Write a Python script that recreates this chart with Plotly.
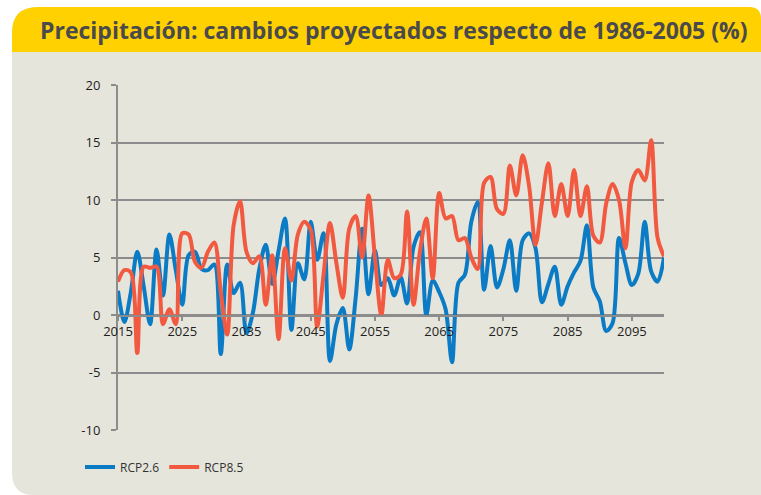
import plotly.graph_objects as go

# ---------------- data ----------------
years = list(range(2015, 2101))

rcp26 = [
    2.1, -0.6, 2.0, 5.5, 2.5, -0.8, 5.7, 1.7, 7.0, 3.9,      # 2015-2024
    0.9, 5.2, 5.5, 4.0, 3.9, 4.4, -3.4, 4.4, 1.9, 2.8,       # 2025-2034
    -1.6, 0.2, 4.0, 6.1, 2.7, 5.6, 8.4, -1.3, 4.5, 3.1,      # 2035-2044
    8.1, 4.8, 7.1, -4.0, -0.8, 0.6, -3.0, 1.5, 7.5, 1.8,     # 2045-2054
    5.6, 2.6, 3.2, 1.7, 3.3, 1.0, 5.9, 7.2, 0.0, 3.0,        # 2055-2064
    2.0, 0.5, -4.1, 2.8, 3.5, 8.1, 9.8, 2.2, 6.0, 2.4,       # 2065-2074
    4.0, 6.5, 2.1, 6.5, 7.1, 5.8, 1.1, 2.7, 4.2, 0.9,        # 2075-2084
    2.5, 3.7, 4.7, 7.8, 2.4, 1.2, -1.4, -0.7, 6.7, 4.5,      # 2085-2094
    2.6, 3.6, 8.1, 3.8, 2.9, 5.0,                            # 2095-2100
]

rcp85 = [
    2.9, 3.9, 3.7, -3.3, 4.2, 4.1, 4.2, -0.8, 0.5, -0.8,     # 2015-2024
    7.1, 7.0, 4.6, 4.1, 5.5, 6.3, 2.0, -1.7, 7.8, 9.9,       # 2025-2034
    5.5, 4.5, 5.1, 0.9, 5.2, -2.1, 5.8, 3.0, 7.0, 8.1,       # 2035-2044
    7.4, -1.0, 3.5, 8.0, 4.5, 1.5, 7.5, 8.6, 5.0, 10.4,      # 2045-2054
    5.0, 0.0, 4.8, 3.2, 3.5, 9.0, 0.9, 5.5, 8.4, 3.2,        # 2055-2064
    10.6, 8.4, 8.6, 6.5, 6.7, 5.0, 4.0, 11.5, 12.0, 9.2,     # 2065-2074
    8.8, 13.0, 10.4, 13.9, 11.2, 6.1, 9.8, 13.2, 8.6, 11.4,  # 2075-2084
    8.6, 12.6, 8.6, 11.2, 6.9, 6.3, 9.7, 11.4, 10.0, 5.8,    # 2085-2094
    11.6, 12.6, 11.7, 15.2, 6.7, 5.1,                        # 2095-2100
]

series_names = ["RCP2.6", "RCP8.5"]
y_ticks = [-10, -5, 0, 5, 10, 15, 20]
x_ticks = list(range(2015, 2100, 10))
title_text = "Precipitación: cambios proyectados respecto de 1986-2005 (%)"

# ---------------- style ----------------
W, H = 761, 495
BLUE = "#0a7bc4"
RED = "#f15a40"
GRID = "#8c8c8c"
BEIGE = "#e6e5db"
YELLOW = "#ffd100"


def px(x):
    return x / W


def py(y):
    return 1 - y / H


def path(points):
    out = []
    for cmd, *coords in points:
        if cmd == "Z":
            out.append("Z")
            continue
        pts = []
        for i in range(0, len(coords), 2):
            pts.append(f"{px(coords[i]):.5f},{py(coords[i+1]):.5f}")
        out.append(cmd + " " + " ".join(pts))
    return " ".join(out)


card = path([
    ("M", 12, 33), ("Q", 12, 7, 38, 7), ("L", 749, 7), ("Q", 761, 7, 761, 19),
    ("L", 761, 495), ("L", 34, 495), ("Q", 12, 495, 12, 473), ("Z",),
])
header = path([
    ("M", 12, 52), ("L", 12, 33), ("Q", 12, 7, 38, 7), ("L", 749, 7),
    ("Q", 761, 7, 761, 19), ("L", 761, 52), ("Z",),
])

fig = go.Figure()
fig.add_trace(go.Scatter(
    x=years, y=rcp26, mode="lines", name=series_names[0],
    line=dict(color=BLUE, width=4, shape="spline", smoothing=0.9),
))
fig.add_trace(go.Scatter(
    x=years, y=rcp85, mode="lines", name=series_names[1],
    line=dict(color=RED, width=4, shape="spline", smoothing=0.9),
))

TICKFONT = dict(family="Open Sans", size=13, color="#1e1e1e")

fig.update_layout(
    template="none",
    width=W, height=H,
    margin=dict(l=0, r=0, t=0, b=0, autoexpand=False),
    paper_bgcolor="white",
    plot_bgcolor="rgba(0,0,0,0)",
    showlegend=True,
    legend=dict(
        orientation="h", x=px(80), y=py(467), xanchor="left", yanchor="middle",
        bgcolor="rgba(0,0,0,0)", font=dict(family="Open Sans", size=12, color="#333333"),
        itemwidth=30, tracegroupgap=0,
    ),
    shapes=[
        dict(type="path", path=card, xref="paper", yref="paper",
             fillcolor=BEIGE, line=dict(width=0), layer="below"),
        dict(type="path", path=header, xref="paper", yref="paper",
             fillcolor=YELLOW, line=dict(width=0), layer="below"),
    ],
    annotations=[
        dict(text="<b>" + title_text + "</b>", x=px(38), y=py(30),
             xref="paper", yref="paper", xanchor="left", yanchor="middle",
             showarrow=False, font=dict(family="Open Sans", size=23, color="#4a4a4c")),
    ],
    xaxis=dict(
        domain=[px(118), px(664)], range=[2015, 2100],
        anchor="free", position=py(315.5), automargin=False,
        tickvals=x_ticks, ticktext=[str(v) for v in x_ticks],
        showgrid=False, zeroline=False,
        showline=True, linecolor=GRID, linewidth=2,
        ticks="outside", ticklen=4, tickwidth=1.5, tickcolor=GRID,
        tickfont=TICKFONT,
    ),
    yaxis=dict(
        domain=[py(430), py(85)], range=[-10, 20], automargin=False,
        tickvals=y_ticks, ticktext=[str(v) for v in y_ticks],
        showgrid=True, gridcolor=GRID, gridwidth=2, zeroline=False,
        showline=True, linecolor=GRID, linewidth=2,
        ticks="outside", ticklen=5, tickwidth=2, tickcolor=GRID,
        ticklabelstandoff=8,
        tickfont=TICKFONT,
    ),
)

fig.write_html(
    "out.html",
    config={"displayModeBar": False},
    post_script="document.body.style.margin='0px';document.body.style.overflow='hidden';",
)
